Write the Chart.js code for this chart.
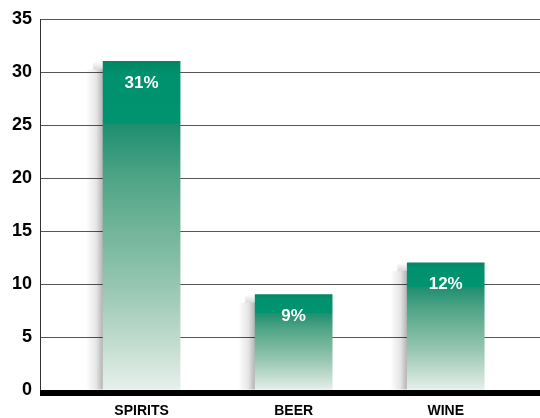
<!DOCTYPE html>
<html>
<head>
<meta charset="utf-8">
<script src="https://cdn.jsdelivr.net/npm/chart.js@4"></script>
<style>
  html, body { margin: 0; padding: 0; background: #fff; }
  #wrap { width: 540px; height: 418px; position: relative; }
</style>
</head>
<body>
<div id="wrap"><canvas id="myChart"></canvas></div>
<script>
const categories = ['SPIRITS', 'BEER', 'WINE'];
const values = [31, 9, 12];
const labels = ['31%', '9%', '12%'];
const yTicks = [0, 5, 10, 15, 20, 25, 30, 35];

// bar colour: solid dark green cap, then fading to almost white at the base
function barFill(c) {
    const chart = c.chart;
    if (!chart.chartArea) return '#00926e';
    const y = chart.scales.y;
    const top = y.getPixelForValue(values[c.dataIndex]);
    const bot = y.getPixelForValue(0);
    const g = chart.ctx.createLinearGradient(0, top, 0, bot);
    g.addColorStop(0, 'rgb(0,134,98)');
    g.addColorStop(0.04, 'rgb(0,145,110)');
    g.addColorStop(0.19, 'rgb(0,148,112)');
    g.addColorStop(0.19, 'rgb(30,142,112)');
    g.addColorStop(0.36, 'rgb(80,165,135)');
    g.addColorStop(0.52, 'rgb(115,181,155)');
    g.addColorStop(0.69, 'rgb(152,199,179)');
    g.addColorStop(0.85, 'rgb(192,219,206)');
    g.addColorStop(1, 'rgb(230,240,235)');
    return g;
}

// grey shadow left of each bar, labels inside, thick base line
const extrasPlugin = {
    id: 'extras',
    beforeDatasetsDraw(chart) {
        const ctx = chart.ctx;
        chart.getDatasetMeta(0).data.forEach(bar => {
            const left = bar.x - bar.width / 2;
            const w = 17;
            const g = ctx.createLinearGradient(left - w, 0, left, 0);
            g.addColorStop(0, 'rgba(0,0,0,0)');
            g.addColorStop(0.6, 'rgba(0,0,0,0.1)');
            g.addColorStop(1, 'rgba(0,0,0,0.3)');
            ctx.save();
            ctx.fillStyle = g;
            ctx.fillRect(left - w, bar.y + 8, w, bar.base - bar.y - 8);
            // blurred fade at the top of the shadow
            const g2 = ctx.createLinearGradient(0, bar.y, 0, bar.y + 8);
            g2.addColorStop(0, 'rgba(0,0,0,0)');
            g2.addColorStop(1, 'rgba(0,0,0,0.15)');
            ctx.fillStyle = g2;
            ctx.fillRect(left - 10, bar.y, 10, 8);
            ctx.restore();
        });
    },
    afterDatasetsDraw(chart) {
        const ctx = chart.ctx;
        const area = chart.chartArea;
        const y0 = chart.scales.y.getPixelForValue(0);
        ctx.save();
        ctx.fillStyle = '#000';
        ctx.fillRect(area.left, y0, area.right - area.left, 6);
        ctx.fillStyle = '#fff';
        ctx.font = 'bold 17px "Liberation Sans", Arial, sans-serif';
        ctx.textAlign = 'center';
        ctx.textBaseline = 'middle';
        chart.getDatasetMeta(0).data.forEach((bar, i) => {
            ctx.fillText(labels[i], bar.x, bar.y + 22);
        });
        ctx.restore();
    }
};

const ctx = document.getElementById('myChart');
const chart = new Chart(ctx, {
    type: 'bar',
    data: {
        datasets: [{
            data: categories.map((c, i) => ({ x: i, y: values[i] })),
            backgroundColor: barFill,
            borderWidth: 0,
            barThickness: 77
        }]
    },
    options: {
        responsive: true,
        maintainAspectRatio: false,
        animation: false,
        layout: { padding: { top: 19, right: 0, left: 0, bottom: 0 } },
        plugins: {
            legend: { display: false },
            tooltip: { enabled: false }
        },
        scales: {
            x: {
                type: 'linear',
                offset: false,
                min: -0.668,
                max: 2.62,
                afterBuildTicks: s => { s.ticks = categories.map((c, i) => ({ value: i })); },
                afterFit: s => { s.height = 28; },
                grid: { display: false, offset: false },
                border: { display: false },
                ticks: {
                    color: '#000',
                    padding: 5,
                    maxRotation: 0,
                    font: { family: '"Liberation Sans", Arial, sans-serif', size: 14, weight: 'bold' },
                    callback: v => categories[v]
                }
            },
            y: {
                min: 0,
                max: 35,
                afterBuildTicks: s => { s.ticks = yTicks.map(v => ({ value: v })); },
                afterFit: s => { s.width = 40; },
                border: { display: true, color: '#333', width: 1 },
                grid: {
                    color: c => c.tick && c.tick.value === 0 ? 'rgba(0,0,0,0)' : '#555',
                    lineWidth: 1,
                    drawTicks: false
                },
                ticks: {
                    color: '#000',
                    padding: 8,
                    font: { family: '"Liberation Sans", Arial, sans-serif', size: 18, weight: 'bold' }
                }
            }
        }
    },
    plugins: [extrasPlugin]
});
</script>
</body>
</html>
